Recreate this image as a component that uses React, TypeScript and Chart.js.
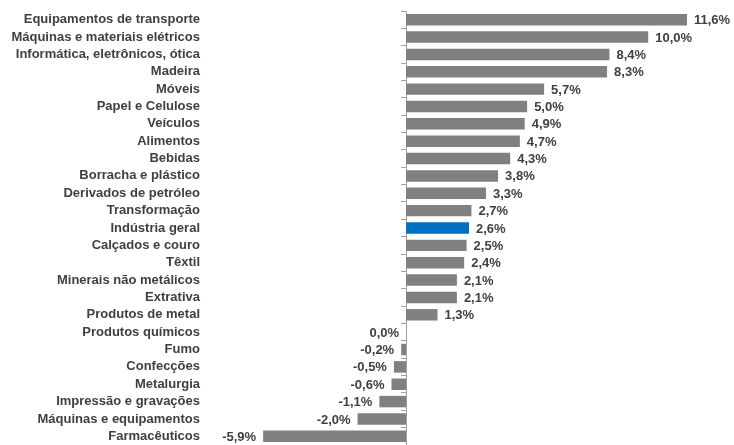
import React, { useEffect, useRef } from "react";
import { Chart, registerables } from "chart.js";

Chart.register(...registerables);

const categories = [
  "Equipamentos de transporte",
  "Máquinas e materiais elétricos",
  "Informática, eletrônicos, ótica",
  "Madeira",
  "Móveis",
  "Papel e Celulose",
  "Veículos",
  "Alimentos",
  "Bebidas",
  "Borracha e plástico",
  "Derivados de petróleo",
  "Transformação",
  "Indústria geral",
  "Calçados e couro",
  "Têxtil",
  "Minerais não metálicos",
  "Extrativa",
  "Produtos de metal",
  "Produtos químicos",
  "Fumo",
  "Confecções",
  "Metalurgia",
  "Impressão e gravações",
  "Máquinas e equipamentos",
  "Farmacêuticos",
];

const values = [
  11.6, 10.0, 8.4, 8.3, 5.7, 5.0, 4.9, 4.7, 4.3, 3.8, 3.3, 2.7, 2.6, 2.5, 2.4,
  2.1, 2.1, 1.3, 0.0, -0.2, -0.5, -0.6, -1.1, -2.0, -5.9,
];

const highlight = "Indústria geral";
const GRAY = "#808080";
const BLUE = "#0070c0";
const TEXT = "#404040";
const AXIS = "#a0a0a0";
const FONT = "'Liberation Sans', Arial, sans-serif";

const fmt = (v: number) => v.toFixed(1).replace(".", ",") + "%";

const valueLabels = {
  id: "valueLabels",
  afterDatasetsDraw(chart: any) {
    const ctx = chart.ctx;
    const meta = chart.getDatasetMeta(0);
    const xScale = chart.scales.x;
    const zero = xScale.getPixelForValue(0);
    ctx.save();
    ctx.font = `bold 13px ${FONT}`;
    ctx.fillStyle = TEXT;
    ctx.textBaseline = "middle";
    meta.data.forEach((bar: any, i: number) => {
      const v = values[i];
      const y = bar.y + 1;
      if (v > 0) {
        ctx.textAlign = "left";
        ctx.fillText(fmt(v), bar.x + 7, y);
      } else {
        ctx.textAlign = "right";
        ctx.fillText(fmt(v), Math.min(bar.x, zero) - 7, y);
      }
    });
    ctx.restore();
  },
};

export default function App() {
  const ref = useRef<HTMLCanvasElement>(null);
  useEffect(() => {
    if (!ref.current) return;
    const chart = new Chart(ref.current, {
      type: "bar",
      data: {
        labels: categories,
        datasets: [
          {
            data: values,
            backgroundColor: categories.map((c) => (c === highlight ? BLUE : GRAY)),
            borderWidth: 0,
            barPercentage: 0.66,
            categoryPercentage: 1,
          },
        ],
      },
      options: {
        indexAxis: "y",
        animation: false,
        responsive: false,
        devicePixelRatio: 1,
        layout: { padding: { left: 0, right: 1, top: 11, bottom: 0 } },
        plugins: {
          legend: { display: false },
          tooltip: { enabled: false },
        },
        scales: {
          x: {
            display: false,
            min: -8.3,
            max: 13.5,
          },
          y: {
            position: "left",
            afterFit: (s: any) => {
              s.width = 205;
              s.paddingTop = 0;
              s.paddingBottom = 0;
            },
            grid: { display: false, drawTicks: false },
            border: { display: false },
            ticks: {
              padding: 5,
              color: TEXT,
              font: { family: FONT, size: 13, weight: "bold" },
              autoSkip: false,
            },
          },
          y2: {
            type: "category",
            axis: "y",
            position: { x: 0 } as any,
            offset: true,
            afterFit: (s: any) => {
              s.paddingTop = 0;
              s.paddingBottom = 0;
            },
            grid: {
              offset: true,
              drawOnChartArea: false,
              drawTicks: true,
              tickLength: 5,
              color: AXIS,
              tickColor: AXIS,
            },
            border: { display: true, color: AXIS, width: 1 },
            ticks: { display: false, autoSkip: false },
          },
        },
      },
      plugins: [valueLabels],
    });
    return () => chart.destroy();
  }, []);
  return (
    <div style={{ position: "absolute", left: 0, top: 0, width: 734, height: 445, background: "#fff" }}>
      <canvas ref={ref} width={734} height={445} style={{ display: "block" }} />
    </div>
  );
}
